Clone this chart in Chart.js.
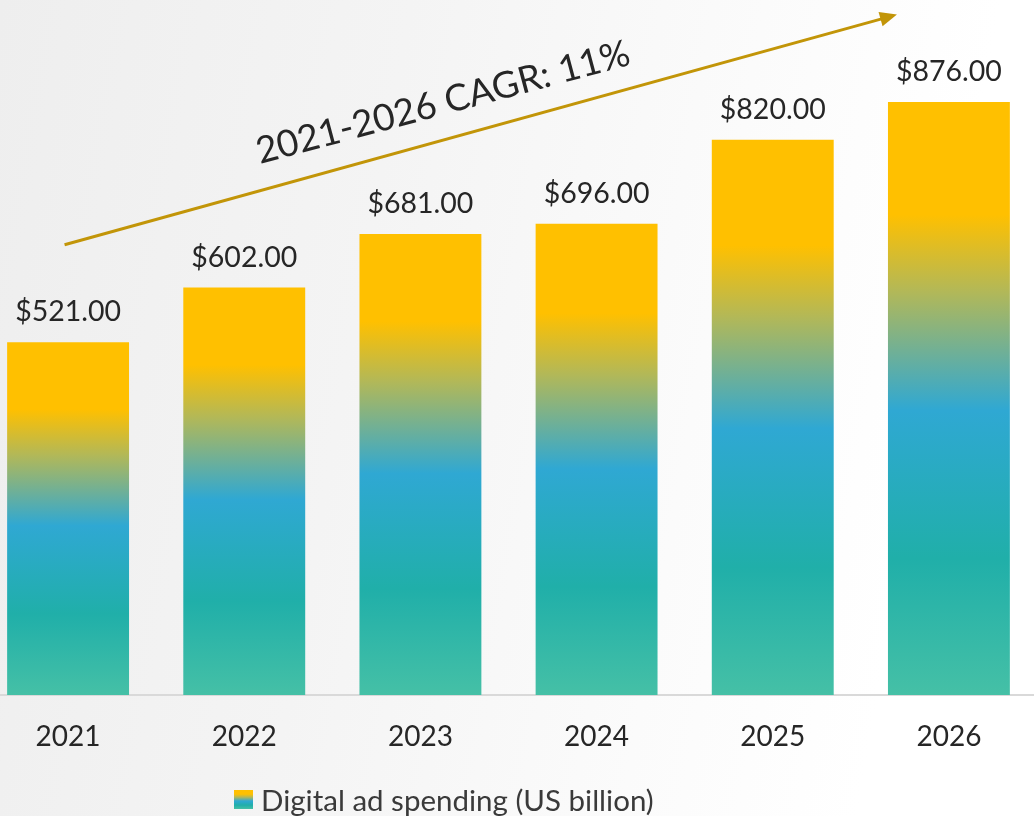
<!DOCTYPE html>
<html>
<head>
<meta charset="utf-8">
<script src="https://cdn.jsdelivr.net/npm/chart.js@4/dist/chart.umd.min.js"></script>
<style>
  html, body { margin: 0; padding: 0; width: 1034px; height: 816px; overflow: hidden; }
  body { position: relative; background: linear-gradient(100deg, #eeeeee 0%, #f4f4f4 35%, #fbfbfb 65%, #ffffff 85%); font-family: Lato, sans-serif; }
  #wrap { position: absolute; left: -20px; top: 0; width: 1057px; height: 816px; }
  #legend { position: absolute; left: 234px; top: 782px; display: flex; align-items: center; font-size: 29.5px; color: #3a3a3a; }
  #legend .box { width: 19px; height: 19px; margin-right: 8px;
    background: linear-gradient(#ffc000 0%, #ffc000 22%, #b2b858 38%, #2fa8d3 58%, #20afa9 80%, #45c0a6 100%); }
</style>
</head>
<body>
<div id="wrap"><canvas id="chart"></canvas></div>
<div id="legend"><span class="box"></span><span>Digital ad spending (US billion)</span></div>
<script>
const years = ["2021", "2022", "2023", "2024", "2025", "2026"];
const spending = [521, 602, 681, 696, 820, 876];
const seriesName = "Digital ad spending (US billion)";
const cagrText = "2021-2026 CAGR: 11%";

// gradient stops, top of bar -> bottom
const gradStops = [
  [0, "#ffc000"], [0.19, "#ffc000"], [0.32, "#b2b858"],
  [0.52, "#2fa8d3"], [0.77, "#20afa9"], [1, "#45c0a6"],
];

const barFill = (ctx) => {
  const chart = ctx.chart;
  if (!chart.chartArea || ctx.type !== "data") return "#ffc000";
  const y = chart.scales.y;
  const top = y.getPixelForValue(ctx.raw);
  const bottom = y.getPixelForValue(0);
  const g = chart.ctx.createLinearGradient(0, top, 0, bottom);
  gradStops.forEach(([p, c]) => g.addColorStop(p, c));
  return g;
};

const valueLabels = {
  id: "valueLabels",
  afterDatasetsDraw(chart) {
    const ctx = chart.ctx;
    const bars = chart.getDatasetMeta(0).data;
    ctx.save();
    ctx.font = "28.5px Lato";
    ctx.fillStyle = "#262626";
    ctx.textAlign = "center";
    ctx.textBaseline = "middle";
    bars.forEach((bar, i) => {
      ctx.fillText("$" + spending[i].toFixed(2), bar.x, bar.y - 30);
    });
    ctx.restore();
  },
};

// trend arrow, positioned in data units (category index, value)
const arrowFrom = [-0.02, 665];
const arrowTo = [4.705, 1005];

const cagrArrow = {
  id: "cagrArrow",
  afterDraw(chart) {
    const { ctx, scales: { x, y } } = chart;
    const x0 = x.getPixelForValue(arrowFrom[0]), y0 = y.getPixelForValue(arrowFrom[1]);
    const x1 = x.getPixelForValue(arrowTo[0]), y1 = y.getPixelForValue(arrowTo[1]);
    const ang = Math.atan2(y1 - y0, x1 - x0);
    ctx.save();
    ctx.strokeStyle = "#c29508";
    ctx.fillStyle = "#c29508";
    ctx.lineWidth = 3;
    ctx.beginPath();
    ctx.moveTo(x0, y0);
    ctx.lineTo(x1 - 14 * Math.cos(ang), y1 - 14 * Math.sin(ang));
    ctx.stroke();
    ctx.translate(x1, y1);
    ctx.rotate(ang);
    ctx.beginPath();
    ctx.moveTo(0, 0);
    ctx.lineTo(-17, -7.5);
    ctx.lineTo(-17, 7.5);
    ctx.closePath();
    ctx.fill();
    ctx.restore();

    // label along the arrow
    const tx = x.getPixelForValue(2.128), ty = y.getPixelForValue(875);
    ctx.save();
    ctx.translate(tx, ty);
    ctx.rotate(-15 * Math.PI / 180);
    ctx.font = "37px Lato";
    ctx.fillStyle = "#262626";
    ctx.textAlign = "center";
    ctx.textBaseline = "middle";
    ctx.fillText(cagrText, 0, 0);
    ctx.restore();
  },
};

new Chart(document.getElementById("chart"), {
  type: "bar",
  data: {
    labels: years,
    datasets: [{
      label: seriesName,
      data: spending,
      backgroundColor: barFill,
      borderWidth: 0,
      categoryPercentage: 1,
      barPercentage: 0.692,
    }],
  },
  options: {
    responsive: true,
    maintainAspectRatio: false,
    animation: false,
    layout: { padding: { top: 18, left: 0, right: 0, bottom: 0 } },
    plugins: {
      legend: { display: false },
      tooltip: { enabled: false },
    },
    scales: {
      x: {
        grid: { display: false, drawTicks: false },
        border: { display: true, color: "#d9d9d9", width: 2 },
        ticks: { font: { family: "Lato", size: 28 }, color: "#262626", padding: 25 },
        afterFit(scale) { scale.height = 121; },
      },
      y: {
        display: false,
        min: 0,
        max: 1000,
      },
    },
  },
  plugins: [valueLabels, cagrArrow],
});
</script>
</body>
</html>
